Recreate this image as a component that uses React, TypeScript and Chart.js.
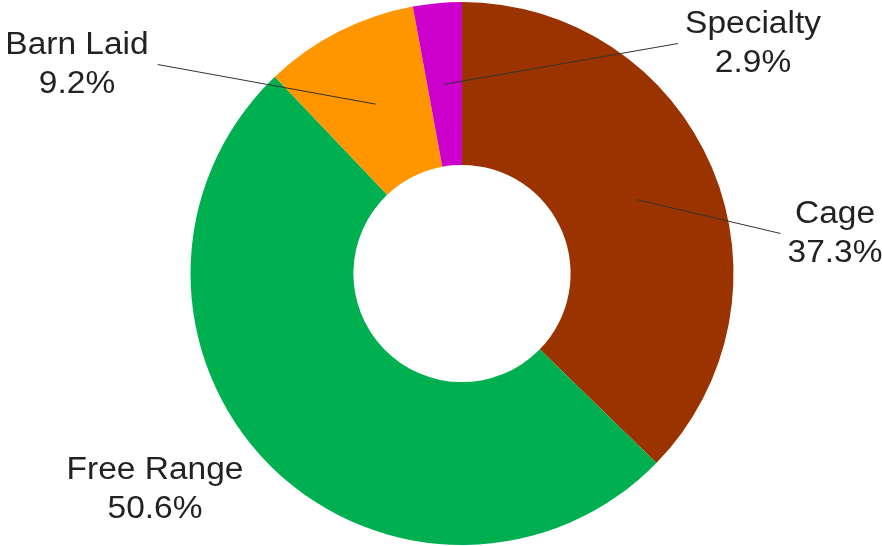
import React, { useEffect, useRef } from "react";
import { Chart, registerables } from "chart.js";

Chart.register(...registerables);

const categories = ["Cage", "Free Range", "Barn Laid", "Specialty"];
const shares = [37.3, 50.6, 9.2, 2.9];
const sliceColors = ["#9A3300", "#00B050", "#FF9600", "#CC00CC"];

// label block centres relative to the doughnut centre, and whether a leader line is drawn
const labelLayout = [
  { dx: 373, dy: -40, line: "left" },
  { dx: -307, dy: 216, line: "none" },
  { dx: -385, dy: -209, line: "right" },
  { dx: 291, dy: -230, line: "left" },
];

const FONT_SIZE = 31;
const LINE_GAP = 39;
const STRETCH = 1.08;

const labelPlugin = {
  id: "sliceLabels",
  afterDatasetsDraw(chart: any) {
    const ctx = chart.ctx as CanvasRenderingContext2D;
    const meta = chart.getDatasetMeta(0);
    const values = chart.data.datasets[0].data as number[];
    const labels = chart.data.labels as string[];
    ctx.save();
    ctx.font = `${FONT_SIZE}px "Liberation Sans", Arial, sans-serif`;
    meta.data.forEach((arc: any, i: number) => {
      const lay = labelLayout[i];
      const cx = arc.x + lay.dx;
      const cy = arc.y + lay.dy;
      const line1 = labels[i];
      const line2 = values[i].toFixed(1) + "%";
      const w = Math.max(ctx.measureText(line1).width, ctx.measureText(line2).width) * STRETCH;
      if (lay.line !== "none") {
        const p = arc.getCenterPoint();
        const ex = lay.line === "left" ? cx - w / 2 - 7 : cx + w / 2 + 9;
        ctx.beginPath();
        ctx.strokeStyle = "#333333";
        ctx.lineWidth = 1;
        ctx.moveTo(p.x, p.y);
        ctx.lineTo(ex, cy);
        ctx.stroke();
      }
      ctx.fillStyle = "#222222";
      ctx.textAlign = "center";
      ctx.textBaseline = "middle";
      [line1, line2].forEach((t, k) => {
        ctx.save();
        ctx.translate(cx, cy + (k === 0 ? -LINE_GAP / 2 : LINE_GAP / 2));
        ctx.scale(STRETCH, 1);
        ctx.fillText(t, 0, 0);
        ctx.restore();
      });
    });
    ctx.restore();
  },
};

export default function App() {
  const ref = useRef<HTMLCanvasElement | null>(null);
  useEffect(() => {
    if (!ref.current) return;
    const chart = new Chart(ref.current, {
      type: "doughnut",
      data: {
        labels: categories,
        datasets: [
          {
            data: shares,
            backgroundColor: sliceColors,
            borderWidth: 0,
          },
        ],
      },
      options: {
        animation: false,
        responsive: true,
        maintainAspectRatio: false,
        cutout: "40%",
        layout: { padding: { left: 42, top: 2, bottom: 1, right: 0 } },
        plugins: {
          legend: { display: false },
          tooltip: { enabled: false },
        },
      },
      plugins: [labelPlugin],
    });
    return () => chart.destroy();
  }, []);
  return (
    <div style={{ position: "absolute", left: 0, top: 0, width: 882, height: 546, background: "#fff" }}>
      <canvas ref={ref} />
    </div>
  );
}
